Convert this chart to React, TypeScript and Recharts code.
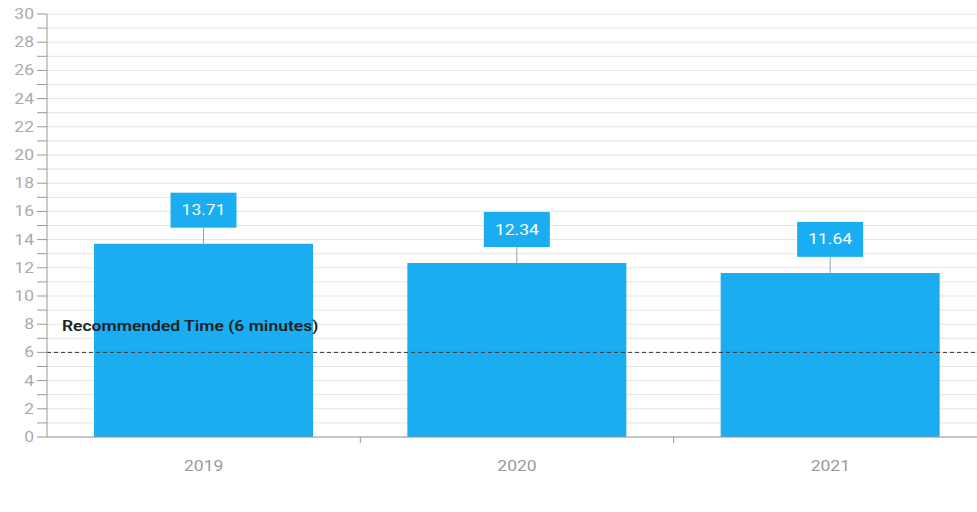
import { Bar, BarChart, CartesianGrid, LabelList, ReferenceLine, XAxis, YAxis } from 'recharts'

const years = ['2019', '2020', '2021']
const avgTime = [13.71, 12.34, 11.64]
const yTicks = Array.from({ length: 31 }, (_, i) => i)
const recommended = 6
const recommendedLabel = 'Recommended Time (6 minutes)'

const data = years.map((year, i) => ({ year, value: avgTime[i] }))

const CHART_W = 987
const PLOT_LEFT = 47
const BAND = (CHART_W - PLOT_LEFT) / years.length
const BLUE = '#1aadf2'
// the reference text looks stretched horizontally
const SX = 1.25

function Stretched({ x, y, anchor, children, ...rest }: any) {
  return (
    <g transform={`translate(${x},${y}) scale(${SX},1)`}>
      <text x={0} y={0} textAnchor={anchor} {...rest}>
        {children}
      </text>
    </g>
  )
}

function XTick(props: any) {
  const { x, y, payload, index } = props
  return (
    <g>
      {index > 0 && (
        <line x1={x - BAND / 2} x2={x - BAND / 2} y1={y - 8} y2={y - 2} stroke="#999" />
      )}
      <Stretched x={x} y={y + 26} anchor="middle" fill="#999" fontSize={14}>
        {payload.value}
      </Stretched>
    </g>
  )
}

function YTick(props: any) {
  const { x, y, payload } = props
  if (payload.value % 2 !== 0) return null
  return (
    <Stretched x={x} y={y + 5} anchor="end" fill="#aaa" fontSize={14}>
      {payload.value}
    </Stretched>
  )
}

function ValueBox(props: any) {
  const { x, y, width, value } = props
  const cx = x + width / 2
  const boxW = 66
  const boxH = 35
  const bottom = y - 16
  return (
    <g>
      <line x1={cx} x2={cx} y1={bottom} y2={y} stroke="#8aa4b4" />
      <rect x={cx - boxW / 2} y={bottom - boxH} width={boxW} height={boxH} fill={BLUE} />
      <Stretched x={cx} y={bottom - boxH / 2 + 5} anchor="middle" fill="#fff" fontSize={14}>
        {value.toFixed(2)}
      </Stretched>
    </g>
  )
}

function RefLabel(props: any) {
  const { viewBox } = props
  return (
    <Stretched x={viewBox.x + 15} y={viewBox.y - 21} anchor="start" fill="#222" fontSize={14} fontWeight={600}>
      {recommendedLabel}
    </Stretched>
  )
}

export default function App() {
  return (
    <div style={{ position: 'absolute', left: 0, top: 0, width: 977, height: 512, overflow: 'hidden', fontFamily: 'Roboto', background: '#fff' }}>
      <BarChart width={CHART_W} height={512} data={data} margin={{ top: 14, right: 0, left: 0, bottom: 45 }} barCategoryGap="15%">
        <CartesianGrid vertical={false} stroke="#e4e4e4" />
        <XAxis dataKey="year" tickLine={false} axisLine={{ stroke: '#999' }} tick={<XTick />} height={30} interval={0} />
        <YAxis
          width={PLOT_LEFT}
          domain={[0, 30]}
          ticks={yTicks}
          interval={0}
          tickSize={10}
          tickMargin={3}
          tick={<YTick />}
          tickLine={{ stroke: '#999' }}
          axisLine={{ stroke: '#999' }}
        />
        <Bar dataKey="value" fill={BLUE} isAnimationActive={false}>
          <LabelList dataKey="value" content={<ValueBox />} />
        </Bar>
        <ReferenceLine y={recommended} stroke="#333" strokeDasharray="4 3" label={<RefLabel />} />
      </BarChart>
    </div>
  )
}
